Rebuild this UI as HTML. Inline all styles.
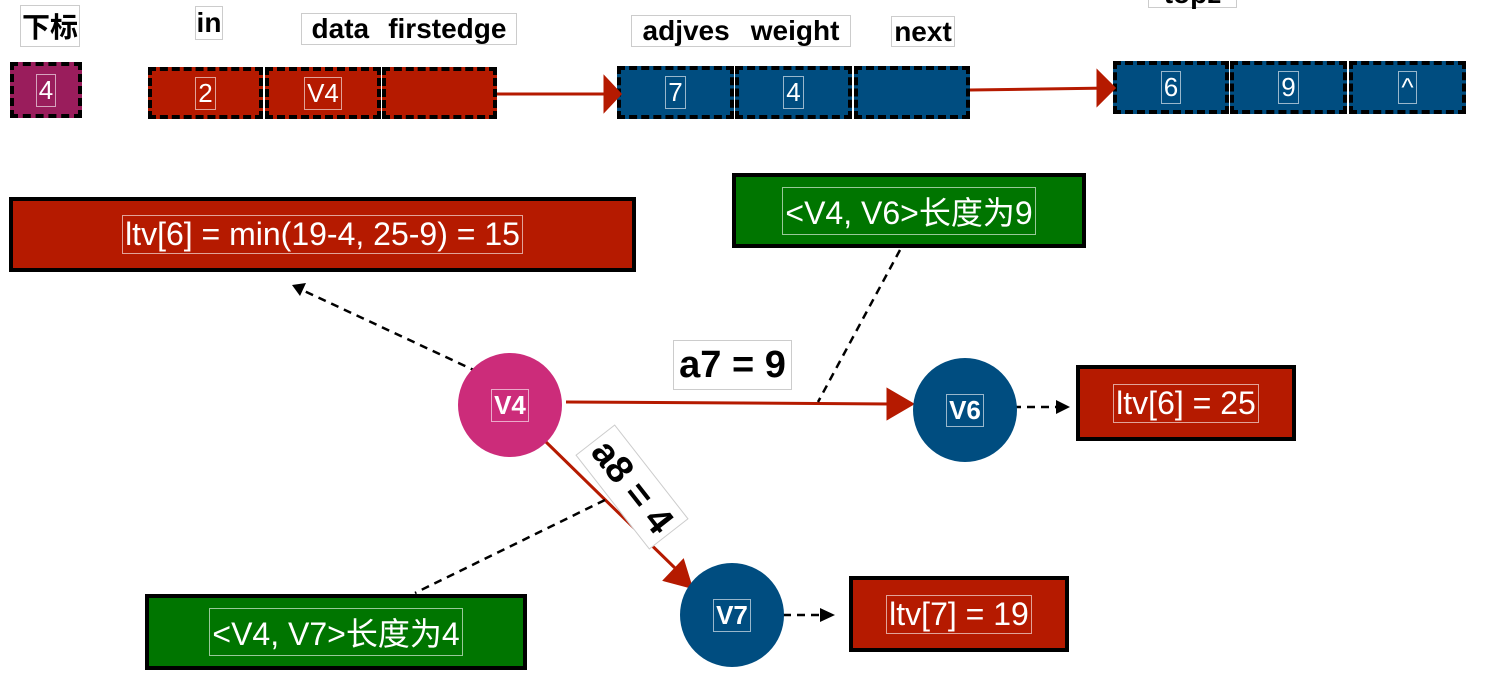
<!DOCTYPE html>
<html><head><meta charset="utf-8"><style>
body{margin:0;width:1504px;height:692px;background:#fff;position:relative;overflow:hidden;font-family:"Liberation Sans","Noto Sans CJK SC",sans-serif;}
.a{position:absolute;box-sizing:border-box;}
.lbl{border:1px solid #ccc;font-weight:bold;font-size:28px;color:#000;display:flex;align-items:center;justify-content:center;background:#fff;}
.cell{border:4px dashed #000;display:flex;align-items:center;justify-content:center;color:#fff;font-size:26px;}
.cell span,.box span,.circ span{border:1px solid rgba(255,255,255,.6);padding:0 2px;}
.r{background:#b51a00}.b{background:#004d80}.p{background:#9a1d5c}.g{background:#007500}
.box{border:4px solid #000;display:flex;align-items:center;justify-content:center;color:#fff;font-size:32px;}
.circ{border-radius:50%;display:flex;align-items:center;justify-content:center;color:#fff;font-weight:bold;font-size:26px;}
</style></head><body>
<div class="a lbl" style="left:20px;top:5px;width:60px;height:42px">下标</div>
<div class="a lbl" style="left:195px;top:6px;width:28px;height:34px">in</div>
<div class="a lbl" style="left:301px;top:13px;width:216px;height:32px;justify-content:space-around">data <span>firstedge</span></div>
<div class="a lbl" style="left:631px;top:15px;width:220px;height:32px;justify-content:space-around">adjves <span>weight</span></div>
<div class="a lbl" style="left:891px;top:16px;width:64px;height:31px">next</div>
<div class="a lbl" style="left:1148px;top:-20px;width:89px;height:28px">topz</div>

<div class="a cell p" style="left:10px;top:62px;width:72px;height:56px"><span>4</span></div>
<div class="a cell r" style="left:148px;top:67px;width:115px;height:52px"><span>2</span></div>
<div class="a cell r" style="left:265px;top:67px;width:116px;height:52px"><span>V4</span></div>
<div class="a cell r" style="left:382px;top:67px;width:115px;height:52px"></div>
<div class="a cell b" style="left:617px;top:66px;width:117px;height:53px"><span>7</span></div>
<div class="a cell b" style="left:735px;top:66px;width:117px;height:53px"><span>4</span></div>
<div class="a cell b" style="left:854px;top:66px;width:116px;height:53px"></div>
<div class="a cell b" style="left:1113px;top:61px;width:116px;height:53px"><span>6</span></div>
<div class="a cell b" style="left:1230px;top:61px;width:117px;height:53px"><span>9</span></div>
<div class="a cell b" style="left:1349px;top:61px;width:117px;height:53px"><span>^</span></div>

<div class="a box r" style="left:9px;top:197px;width:627px;height:75px"><span>ltv[6] = min(19-4, 25-9) = 15</span></div>
<div class="a box g" style="left:732px;top:173px;width:354px;height:75px"><span>&lt;V4, V6&gt;长度为9</span></div>
<div class="a box r" style="left:1076px;top:365px;width:220px;height:76px"><span>ltv[6] = 25</span></div>
<div class="a box g" style="left:145px;top:594px;width:382px;height:76px"><span>&lt;V4, V7&gt;长度为4</span></div>
<div class="a box r" style="left:849px;top:576px;width:220px;height:76px"><span>ltv[7] = 19</span></div>

<svg class="a" style="left:0;top:0" width="1504" height="692">
<defs>
<marker id="rh" markerWidth="10" markerHeight="10" refX="9" refY="5" orient="auto" markerUnits="userSpaceOnUse" viewBox="0 0 10 10"><path d="M0,0L10,5L0,10z" fill="#b51a00"/></marker>
<marker id="kh" markerWidth="14" markerHeight="14" refX="13" refY="7" orient="auto" markerUnits="userSpaceOnUse" viewBox="0 0 14 14"><path d="M0,0L14,7L0,14z" fill="#000"/></marker>
</defs>
<g stroke="#b51a00" stroke-width="3" fill="none">
<line x1="497" y1="94" x2="618" y2="94"/>
<path d="M605,78L620,94L605,110z" fill="#b51a00"/>
<line x1="970" y1="90" x2="1112" y2="88"/>
<path d="M1098,72L1114,88L1098,104z" fill="#b51a00"/>
<line x1="566" y1="402" x2="898" y2="404"/>
<path d="M888,390L912,404L888,418z" fill="#b51a00"/>
<line x1="545" y1="441" x2="678" y2="571"/>
<path d="M665,580L691,587L683,561z" fill="#b51a00"/>
</g>
<g stroke="#000" stroke-width="2.5" stroke-dasharray="8,6" fill="none">
<line x1="478" y1="372" x2="300" y2="289"/>
<line x1="900" y1="250" x2="818" y2="402"/>
<line x1="605" y1="500" x2="415" y2="593"/>
<line x1="985" y1="407" x2="1058" y2="407"/>
<line x1="755" y1="615" x2="822" y2="615"/>
</g>
<path d="M292,285L306,283L300,296z" fill="#000"/>
<path d="M1056,400L1070,407L1056,414z" fill="#000"/>
<path d="M820,608L835,615L820,622z" fill="#000"/>
</svg>

<div class="a circ" style="left:458px;top:353px;width:104px;height:104px;background:#cc2c7a"><span>V4</span></div>
<div class="a circ" style="left:913px;top:358px;width:104px;height:104px;background:#004d80"><span>V6</span></div>
<div class="a circ" style="left:680px;top:563px;width:104px;height:104px;background:#004d80"><span>V7</span></div>

<div class="a lbl" style="left:673px;top:340px;width:119px;height:50px;font-size:38px">a7 = 9</div>
<div class="a lbl" style="left:572px;top:462px;width:120px;height:50px;font-size:38px;transform:rotate(52deg)">a8 = 4</div>
</body></html>
